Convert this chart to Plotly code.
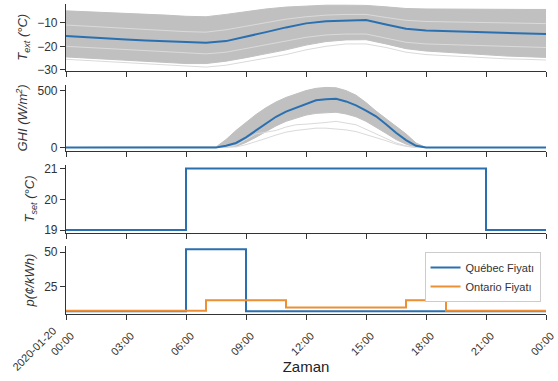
import plotly.graph_objects as go
from plotly.subplots import make_subplots

# ---------------- data ----------------
hours = list(range(25))
tick_hours = [0, 3, 6, 9, 12, 15, 18, 21, 24]
tick_labels = ["00:00", "03:00", "06:00", "09:00", "12:00",
               "15:00", "18:00", "21:00", "00:00"]
date_label = "2020-01-20"

# outdoor temperature (°C)
text_median = [-15.6, -16.2, -16.7, -17.1, -17.5, -17.8, -18.1, -18.5, -17.8, -16.0,
               -14.0, -12.0, -10.3, -9.4, -9.0, -8.9, -10.8, -12.6, -13.3, -13.6,
               -13.8, -14.1, -14.3, -14.6, -14.8]
text_upper = [-5.0, -5.3, -5.6, -6.0, -6.4, -6.8, -7.3, -7.5, -6.5, -5.2,
              -4.2, -3.4, -2.9, -2.6, -2.6, -2.7, -3.3, -4.0, -4.2, -4.3,
              -4.3, -4.4, -4.4, -4.4, -4.4]
text_lower = [-24.5, -25.0, -25.5, -26.0, -26.5, -27.0, -27.3, -27.3, -26.3, -24.8,
              -23.3, -21.5, -19.5, -18.0, -17.3, -17.2, -19.0, -21.0, -22.0, -22.6,
              -23.2, -23.7, -24.1, -24.4, -24.7]
text_light1 = [-20.0, -20.5, -21.0, -21.5, -22.0, -22.5, -23.0, -23.2, -22.5, -21.0,
               -19.5, -17.8, -16.2, -15.2, -14.8, -14.8, -16.5, -18.3, -19.0, -19.3,
               -19.6, -19.9, -20.1, -20.3, -20.5]
text_light2 = [-11.0, -11.5, -12.0, -12.5, -13.0, -13.4, -13.8, -14.0, -13.0, -11.5,
               -10.0, -8.5, -7.5, -6.8, -6.5, -6.5, -7.8, -9.0, -9.5, -9.7,
               -9.9, -10.1, -10.2, -10.3, -10.4]
text_light3 = [-25.5, -26.0, -26.5, -27.0, -27.5, -28.0, -28.5, -28.8, -28.0, -26.5,
               -25.0, -23.5, -21.5, -20.0, -19.0, -19.0, -20.5, -22.5, -23.5, -24.0,
               -24.5, -25.0, -25.3, -25.5, -25.8]

# global horizontal irradiance (W/m2), half-hourly
ghi_hours = [h / 2 for h in range(49)]
ghi_median = [0] * 15 + [0, 15, 40, 90, 150, 210, 270, 315, 350, 385, 415, 425, 428,
                         405, 370, 325, 274, 205, 130, 65, 15, 0] + [0] * 12
ghi_upper = [0] * 15 + [5, 70, 150, 220, 290, 350, 400, 440, 470, 500, 520, 528, 525,
                        500, 460, 395, 320, 255, 190, 120, 40, 0] + [0] * 12
ghi_lower = [0] * 15 + [0, 3, 10, 45, 90, 140, 190, 230, 260, 285, 300, 308, 310,
                        295, 270, 230, 180, 125, 70, 30, 0, 0] + [0] * 12
ghi_light1 = [0] * 15 + [0, 0, 5, 25, 50, 80, 110, 135, 150, 162, 170, 170, 165,
                         155, 140, 115, 90, 60, 30, 10, 0, 0] + [0] * 12
ghi_light2 = [0] * 15 + [0, 5, 20, 70, 120, 135, 150, 180, 200, 205, 210, 220, 230,
                         215, 200, 160, 120, 80, 40, 15, 0, 0] + [0] * 12

# set-point temperature (°C), step changes
tset_hours = [0, 6, 21, 24]
tset_values = [19, 21, 19, 19]

# prices (¢/kWh), step changes
quebec_hours = [0, 6, 9, 24]
quebec_price = [7.3, 52.2, 7.3, 7.3]
ontario_hours = [0, 7, 11, 17, 19, 24]
ontario_price = [7.7, 15.3, 10.0, 15.3, 7.7, 7.7]

# ---------------- styles ----------------
BLUE = "#2a70b0"
ORANGE = "#ec8f35"
GREY = "#c0c0c0"
LIGHT = "#dadada"
AX = "#333333"
FONT = "Liberation Sans, Arial, sans-serif"

fig = make_subplots(rows=4, cols=1)


def band(upper, lower, row, x=hours):
    fig.add_trace(go.Scatter(x=x, y=upper, mode="lines", line=dict(width=1, color=GREY),
                             showlegend=False, hoverinfo="skip"), row=row, col=1)
    fig.add_trace(go.Scatter(x=x, y=lower, mode="lines", line=dict(width=1, color=GREY),
                             fill="tonexty", fillcolor=GREY, showlegend=False,
                             hoverinfo="skip"), row=row, col=1)


def line(y, row, color, width=1.0, x=hours, shape="linear", name=None):
    fig.add_trace(go.Scatter(x=x, y=y, mode="lines",
                             line=dict(width=width, color=color, shape=shape),
                             name=name, showlegend=name is not None), row=row, col=1)


band(text_upper, text_lower, 1)
for s in (text_light1, text_light2, text_light3):
    line(s, 1, LIGHT)
line(text_median, 1, BLUE, 2)

band(ghi_upper, ghi_lower, 2, x=ghi_hours)
for s in (ghi_light1, ghi_light2):
    line(s, 2, LIGHT, x=ghi_hours)
line(ghi_median, 2, BLUE, 2, x=ghi_hours)

line(tset_values, 3, BLUE, 2, x=tset_hours, shape="hv")

line(quebec_price, 4, BLUE, 2, x=quebec_hours, shape="hv", name="Québec Fiyatı")
line(ontario_price, 4, ORANGE, 2, x=ontario_hours, shape="hv", name="Ontario Fiyatı")

domains = [[0.785, 1.0], [0.526, 0.739], [0.261, 0.481], [0.0, 0.219]]
yranges = [[-30.3, -2.1], [-30, 550], [18.9, 21.12], [5.3, 54.4]]
ytickvals = [[-30, -20, -10], [0, 500], [19, 20, 21], [25, 50]]
ytitles = ["<i>T<sub>ext</sub> (°C)</i>", "<i>GHI (W/m<sup>2</sup>)</i>",
           "<i>T<sub>set</sub> (°C)</i>", "<i>p(¢/kWh)</i>"]

for i in range(4):
    r = i + 1
    fig.update_yaxes(row=r, col=1, domain=domains[i], range=yranges[i],
                     tickvals=ytickvals[i], ticks="outside", ticklen=5, tickwidth=1.2,
                     tickcolor=AX, showline=True, linecolor=AX, linewidth=1.2,
                     showgrid=False, zeroline=False, automargin=False,
                     tickfont=dict(size=12, color=AX, family=FONT),
                     title=dict(text=ytitles[i], font=dict(size=13, color=AX, family=FONT),
                                standoff=6))
    fig.update_xaxes(row=r, col=1, range=[0, 24], tickvals=tick_hours,
                     ticktext=tick_labels, showticklabels=(r == 4),
                     ticks="outside", ticklen=5, tickwidth=1.2, tickcolor=AX,
                     showline=True, linecolor=AX, linewidth=1.2, showgrid=False,
                     zeroline=False, automargin=False,
                     tickfont=dict(size=11, color=AX, family=FONT))

fig.update_xaxes(row=4, col=1, tickangle=-45, ticklabelshift=5, ticklabelstandoff=5,
                 ticklabeloverflow="allow",
                 title=dict(text="Zaman", font=dict(size=15, color="#222222", family=FONT),
                            standoff=2))

# date offset label drawn next to the first tick, as in the original
fig.add_annotation(text=date_label, xref="paper", yref="paper",
                   x=-0.0668, y=-0.112, xanchor="center", yanchor="middle",
                   textangle=-45, showarrow=False,
                   font=dict(size=11, color=AX, family=FONT))

fig.update_layout(
    width=558, height=381,
    margin=dict(l=66, r=12, t=4, b=67),
    paper_bgcolor="white", plot_bgcolor="white",
    font=dict(family=FONT, color=AX),
    legend=dict(x=0.9886, y=0.2, xanchor="right", yanchor="top",
                traceorder="normal", itemwidth=30,
                bordercolor="#cccccc", borderwidth=1, bgcolor="white",
                font=dict(size=11, color=AX, family=FONT), tracegroupgap=0),
)

fig.write_html("out.html")
